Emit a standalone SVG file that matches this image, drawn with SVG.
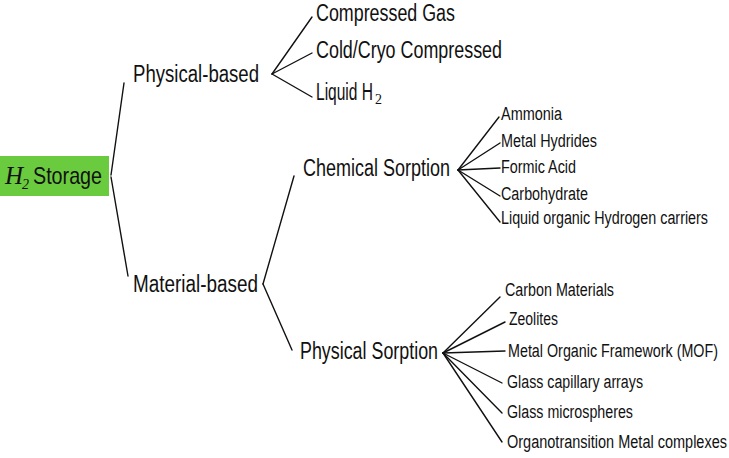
<svg xmlns="http://www.w3.org/2000/svg" width="729" height="458" viewBox="0 0 729 458">
<style>
.t{font-family:"Liberation Sans",Arial,sans-serif;fill:#111}
.L{font-size:23px}
.S{font-size:18px}
.c line{stroke:#111;stroke-width:1.4;stroke-linecap:round}
</style>
<rect width="729" height="458" fill="#fff"/>
<g class="c" id="connectors">
<line x1="111" y1="175" x2="124" y2="83"/>
<line x1="111" y1="177" x2="128" y2="276"/>
<line x1="272" y1="74" x2="312" y2="17"/>
<line x1="272" y1="74" x2="312" y2="53"/>
<line x1="272" y1="74" x2="312" y2="97"/>
<line x1="263" y1="284" x2="294" y2="176"/>
<line x1="263" y1="284" x2="292" y2="350"/>
<line x1="458" y1="170" x2="499" y2="117"/>
<line x1="458" y1="170" x2="500" y2="143"/>
<line x1="458" y1="170" x2="500" y2="168"/>
<line x1="458" y1="170" x2="500" y2="196"/>
<line x1="458" y1="170" x2="500" y2="222"/>
<line x1="443" y1="353" x2="500" y2="297"/>
<line x1="443" y1="353" x2="505" y2="322"/>
<line x1="443" y1="353" x2="505" y2="351"/>
<line x1="443" y1="353" x2="502" y2="383"/>
<line x1="443" y1="353" x2="502" y2="413"/>
<line x1="443" y1="353" x2="502" y2="442"/>
</g>
<g id="root">
<rect x="0" y="156" width="109" height="40" fill="#6bcb3f"/>
<text x="5" y="184" font-family="Liberation Serif,serif" font-style="italic" font-size="25" fill="#111">H</text>
<text x="22" y="189" font-family="Liberation Serif,serif" font-style="italic" font-size="14" fill="#111">2</text>
<text class="t" x="33" y="184" font-size="24" textLength="69" lengthAdjust="spacingAndGlyphs">Storage</text>
</g>
<g id="physical-based"><text class="t L" x="133" y="82" textLength="126" lengthAdjust="spacingAndGlyphs">Physical-based</text></g>
<g id="material-based"><text class="t L" x="133" y="292" textLength="125" lengthAdjust="spacingAndGlyphs">Material-based</text></g>
<g id="compressed-gas"><text class="t L" x="316" y="21" textLength="139" lengthAdjust="spacingAndGlyphs">Compressed Gas</text></g>
<g id="cold-cryo"><text class="t L" x="316" y="58" textLength="186" lengthAdjust="spacingAndGlyphs">Cold/Cryo Compressed</text></g>
<g id="liquid-h2"><text class="t L" x="316" y="100" textLength="57" lengthAdjust="spacingAndGlyphs">Liquid H</text><text x="375" y="104" font-family="Liberation Serif,serif" font-size="14" fill="#111">2</text></g>
<g id="chemical-sorption"><text class="t L" x="303" y="176" textLength="147" lengthAdjust="spacingAndGlyphs">Chemical Sorption</text></g>
<g id="physical-sorption"><text class="t L" x="300" y="359" textLength="138" lengthAdjust="spacingAndGlyphs">Physical Sorption</text></g>
<g id="ammonia"><text class="t S" x="501" y="120" textLength="61" lengthAdjust="spacingAndGlyphs">Ammonia</text></g>
<g id="metal-hydrides"><text class="t S" x="501" y="147" textLength="96" lengthAdjust="spacingAndGlyphs">Metal Hydrides</text></g>
<g id="formic-acid"><text class="t S" x="501" y="173" textLength="75" lengthAdjust="spacingAndGlyphs">Formic Acid</text></g>
<g id="carbohydrate"><text class="t S" x="501" y="200" textLength="87" lengthAdjust="spacingAndGlyphs">Carbohydrate</text></g>
<g id="lohc"><text class="t S" x="501" y="224" textLength="207" lengthAdjust="spacingAndGlyphs">Liquid organic Hydrogen carriers</text></g>
<g id="carbon-materials"><text class="t S" x="505" y="296" textLength="109" lengthAdjust="spacingAndGlyphs">Carbon Materials</text></g>
<g id="zeolites"><text class="t S" x="509" y="325" textLength="49" lengthAdjust="spacingAndGlyphs">Zeolites</text></g>
<g id="mof"><text class="t S" x="508" y="357" textLength="210" lengthAdjust="spacingAndGlyphs">Metal Organic Framework (MOF)</text></g>
<g id="glass-capillary"><text class="t S" x="507" y="388" textLength="136" lengthAdjust="spacingAndGlyphs">Glass capillary arrays</text></g>
<g id="glass-micro"><text class="t S" x="507" y="418" textLength="126" lengthAdjust="spacingAndGlyphs">Glass microspheres</text></g>
<g id="organo"><text class="t S" x="507" y="448" textLength="220" lengthAdjust="spacingAndGlyphs">Organotransition Metal complexes</text></g>
</svg>
